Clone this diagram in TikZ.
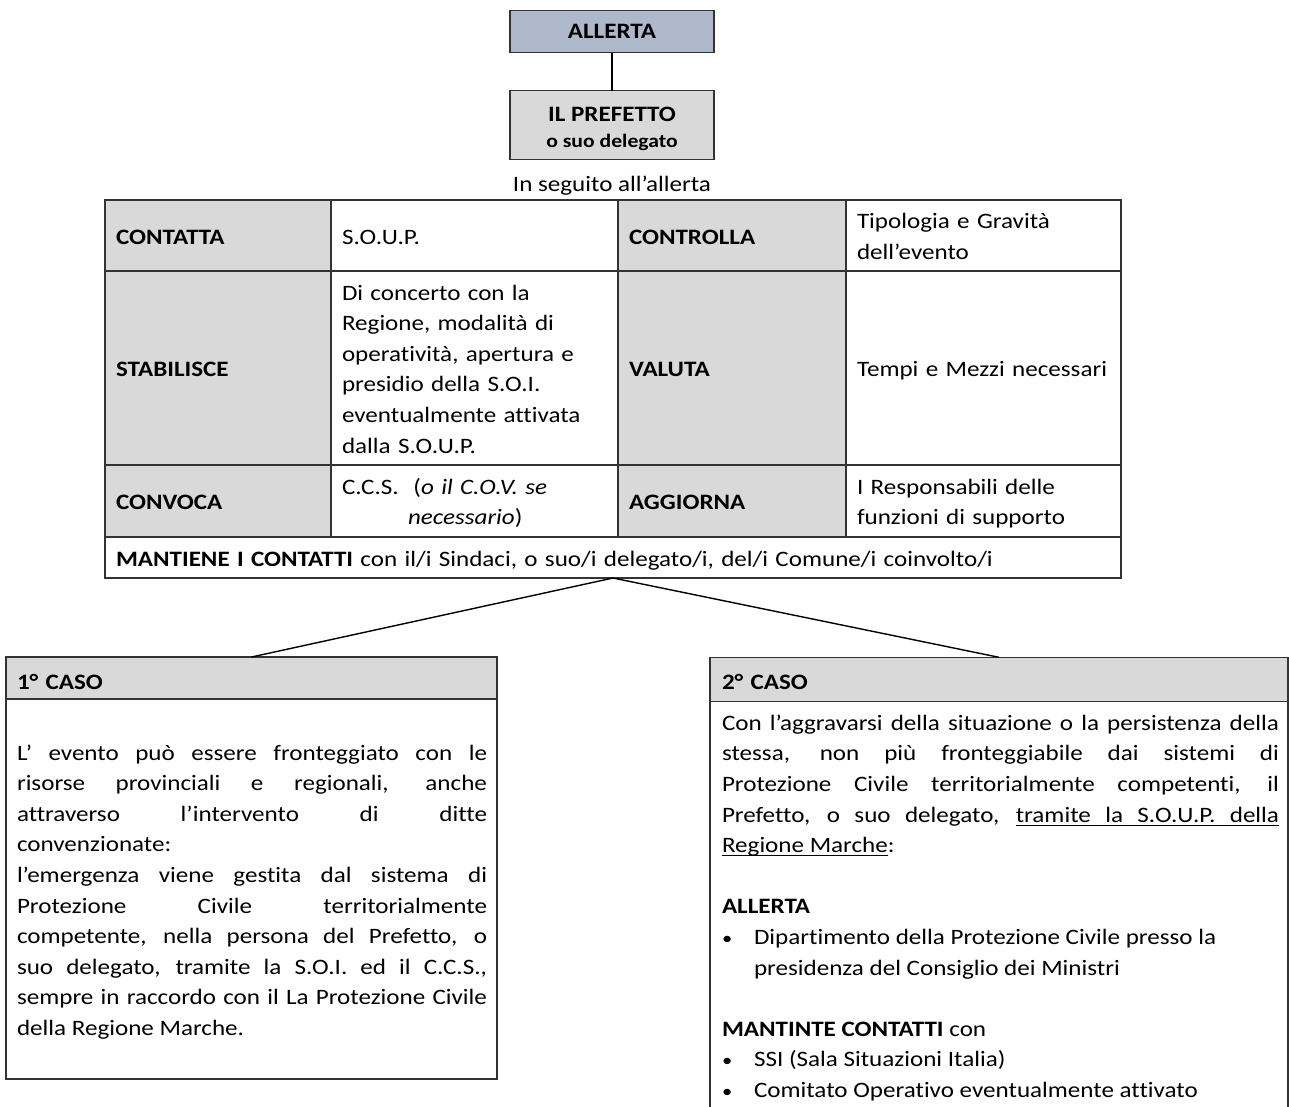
\documentclass[tikz,border=0pt]{standalone}
\usepackage{fontspec}
\setmainfont{Carlito}[FakeStretch=1.14,Ligatures={NoCommon,NoRequired,NoContextual}]
\definecolor{hdrgray}{HTML}{D9D9D9}
\definecolor{alertblue}{HTML}{ADB9CA}
\definecolor{edgecol}{HTML}{333333}
\newcommand\cellstrut{\rule[-6.8pt]{0pt}{30.6pt}}
\newcommand\hdrstrut{\rule[-4.3pt]{0pt}{30.6pt}}
\newcommand\justline[1]{\makebox[\linewidth][s]{#1}}
\newcommand\bulitem{\makebox[32pt][l]{\fontsize{18}{30.6}\selectfont\raisebox{0.5pt}{•}}}
\newcommand\ulw[1]{\setbox0\hbox{#1}\rlap{\vrule height -2.5pt depth 3.7pt width \wd0}\box0}
\newcommand\ulsp{\leaders\hrule height -2.5pt depth 3.7pt\hskip\fontdimen2\font plus\fontdimen3\font minus\fontdimen4\font\relax}
\begin{document}
\begin{tikzpicture}[x=1pt,y=-1pt,
  every node/.style={inner sep=0pt, outer sep=0pt},
  font=\fontsize{22}{30.6}\selectfont,
  box/.style={draw=edgecol, line width=1.2pt, anchor=north west},
  cell/.style={box, inner xsep=11pt, inner ysep=0pt, align=left},
  lab/.style={cell, fill=hdrgray, font=\fontsize{22}{30.6}\selectfont\bfseries},
  txt/.style={cell},
  conn/.style={draw=black, line width=1.4pt},
  body/.style={anchor=base west, align=justify}
]
\useasboundingbox (0,0) rectangle (1289,1106);
\clip (0,0) rectangle (1289,1106);
\fill[white] (0,0) rectangle (1289,1106);

% top boxes
\node[box, fill=alertblue, minimum width=204pt, minimum height=42pt,
      font=\fontsize{22}{26}\selectfont\bfseries] (allerta) at (510,10.5) {ALLERTA};
\node[box, fill=hdrgray, minimum width=204pt, minimum height=68.5pt, align=center,
      font=\fontsize{22}{26}\selectfont\bfseries] (prefetto) at (510,90.7)
      {\rule{0pt}{21.4pt}IL PREFETTO\\{\fontsize{19}{26}\selectfont o suo delegato}};
\draw[conn] (allerta.south) -- (prefetto.north);
\node[anchor=base] (seguito) at (612,191) {In seguito all’allerta};

% table row 1
\node[lab, minimum width=226pt, minimum height=71pt, text width=204pt] (contatta) at (105,200) {\cellstrut CONTATTA};
\node[txt, minimum width=287pt, minimum height=71pt, text width=265pt] (soup) at (331,200) {\cellstrut S.O.U.P.};
\node[lab, minimum width=228pt, minimum height=71pt, text width=206pt] (controlla) at (618,200) {\cellstrut CONTROLLA};
\node[txt, minimum width=275pt, minimum height=71pt, text width=253pt] (tipologia) at (846,200)
  {\cellstrut Tipologia e Gravità\\\cellstrut dell’evento};
% row 2
\node[lab, minimum width=226pt, minimum height=194pt, text width=204pt] (stabilisce) at (105,271) {\cellstrut STABILISCE};
\node[txt, minimum width=287pt, minimum height=194pt, text width=265pt] (concerto) at (331,271)
  {\cellstrut Di concerto con la\\\cellstrut Regione, modalità di\\\cellstrut operatività, apertura e\\\cellstrut presidio della S.O.I.\\\cellstrut eventualmente attivata\\\cellstrut dalla S.O.U.P.};
\node[lab, minimum width=228pt, minimum height=194pt, text width=206pt] (valuta) at (618,271) {\cellstrut VALUTA};
\node[txt, minimum width=275pt, minimum height=194pt, text width=253pt] (tempi) at (846,271) {\cellstrut Tempi e Mezzi necessari};
% row 3
\node[lab, minimum width=226pt, minimum height=72pt, text width=204pt] (convoca) at (105,465) {\cellstrut CONVOCA};
\node[txt, minimum width=287pt, minimum height=72pt, text width=265pt] (ccs) at (331,465)
  {\cellstrut C.C.S.\ \ (\textit{o il C.O.V. se}\\\cellstrut\hspace*{66pt}\textit{necessario})};
\node[lab, minimum width=228pt, minimum height=72pt, text width=206pt] (aggiorna) at (618,465) {\cellstrut AGGIORNA};
\node[txt, minimum width=275pt, minimum height=72pt, text width=253pt] (resp) at (846,465)
  {\cellstrut I Responsabili delle\\\cellstrut funzioni di supporto};
% row 4
\node[txt, minimum width=1016pt, minimum height=41pt, text width=994pt] (mantiene) at (105,537)
  {\cellstrut\textbf{MANTIENE I CONTATTI} con il/i Sindaci, o suo/i delegato/i, del/i Comune/i coinvolto/i};

% case 1
\node[box, fill=hdrgray, minimum width=491pt, minimum height=42pt, inner xsep=11pt, text width=469pt, align=left,
      font=\fontsize{22}{30.6}\selectfont\bfseries] (caso1h) at (6,657) {\hdrstrut 1° CASO};
\node[box, minimum width=491pt, minimum height=380pt] (caso1) at (6,699) {};
\node[body, text width=470pt] (caso1t) at (17,760.1) {%
\justline{L’ evento può essere fronteggiato con le}\\
\justline{risorse provinciali e regionali, anche}\\
\justline{attraverso l’intervento di ditte}\\
convenzionate:\\
\justline{l’emergenza viene gestita dal sistema di}\\
\justline{Protezione Civile territorialmente}\\
\justline{competente, nella persona del Prefetto, o}\\
\justline{suo delegato, tramite la S.O.I. ed il C.C.S.,}\\
\justline{sempre in raccordo con il La Protezione Civile}\\
della Regione Marche.};

% case 2
\node[box, fill=hdrgray, minimum width=578pt, minimum height=44pt, inner xsep=12pt, text width=554pt, align=left,
      font=\fontsize{22}{30.6}\selectfont\bfseries] (caso2h) at (710,657.3) {\rule[-5.5pt]{0pt}{30.6pt}2° CASO};
\node[box, minimum width=578pt, minimum height=430pt] (caso2) at (710,701.3) {};
\node[body, text width=557pt] (caso2t) at (722,730.3) {%
\justline{Con l’aggravarsi della situazione o la persistenza della}\\
\justline{stessa, non più fronteggiabile dai sistemi di}\\
\justline{Protezione Civile territorialmente competenti, il}\\
\justline{Prefetto, o suo delegato, \ulw{tramite}\ulsp\ulw{la}\ulsp\ulw{S.O.U.P.}\ulsp\ulw{della}}\\
\ulw{Regione}\ulsp\ulw{Marche}:\\
\mbox{}\\
\textbf{ALLERTA}\\
\bulitem Dipartimento della Protezione Civile presso la\\
\hspace*{32pt}presidenza del Consiglio dei Ministri\\
\mbox{}\\
\textbf{MANTINTE CONTATTI} con\\
\bulitem SSI (Sala Situazioni Italia)\\
\bulitem Comitato Operativo eventualmente attivato};

\draw[conn] (mantiene.south) -- (caso1h.north);
\draw[conn] (mantiene.south) -- (caso2h.north);
\end{tikzpicture}
\end{document}
